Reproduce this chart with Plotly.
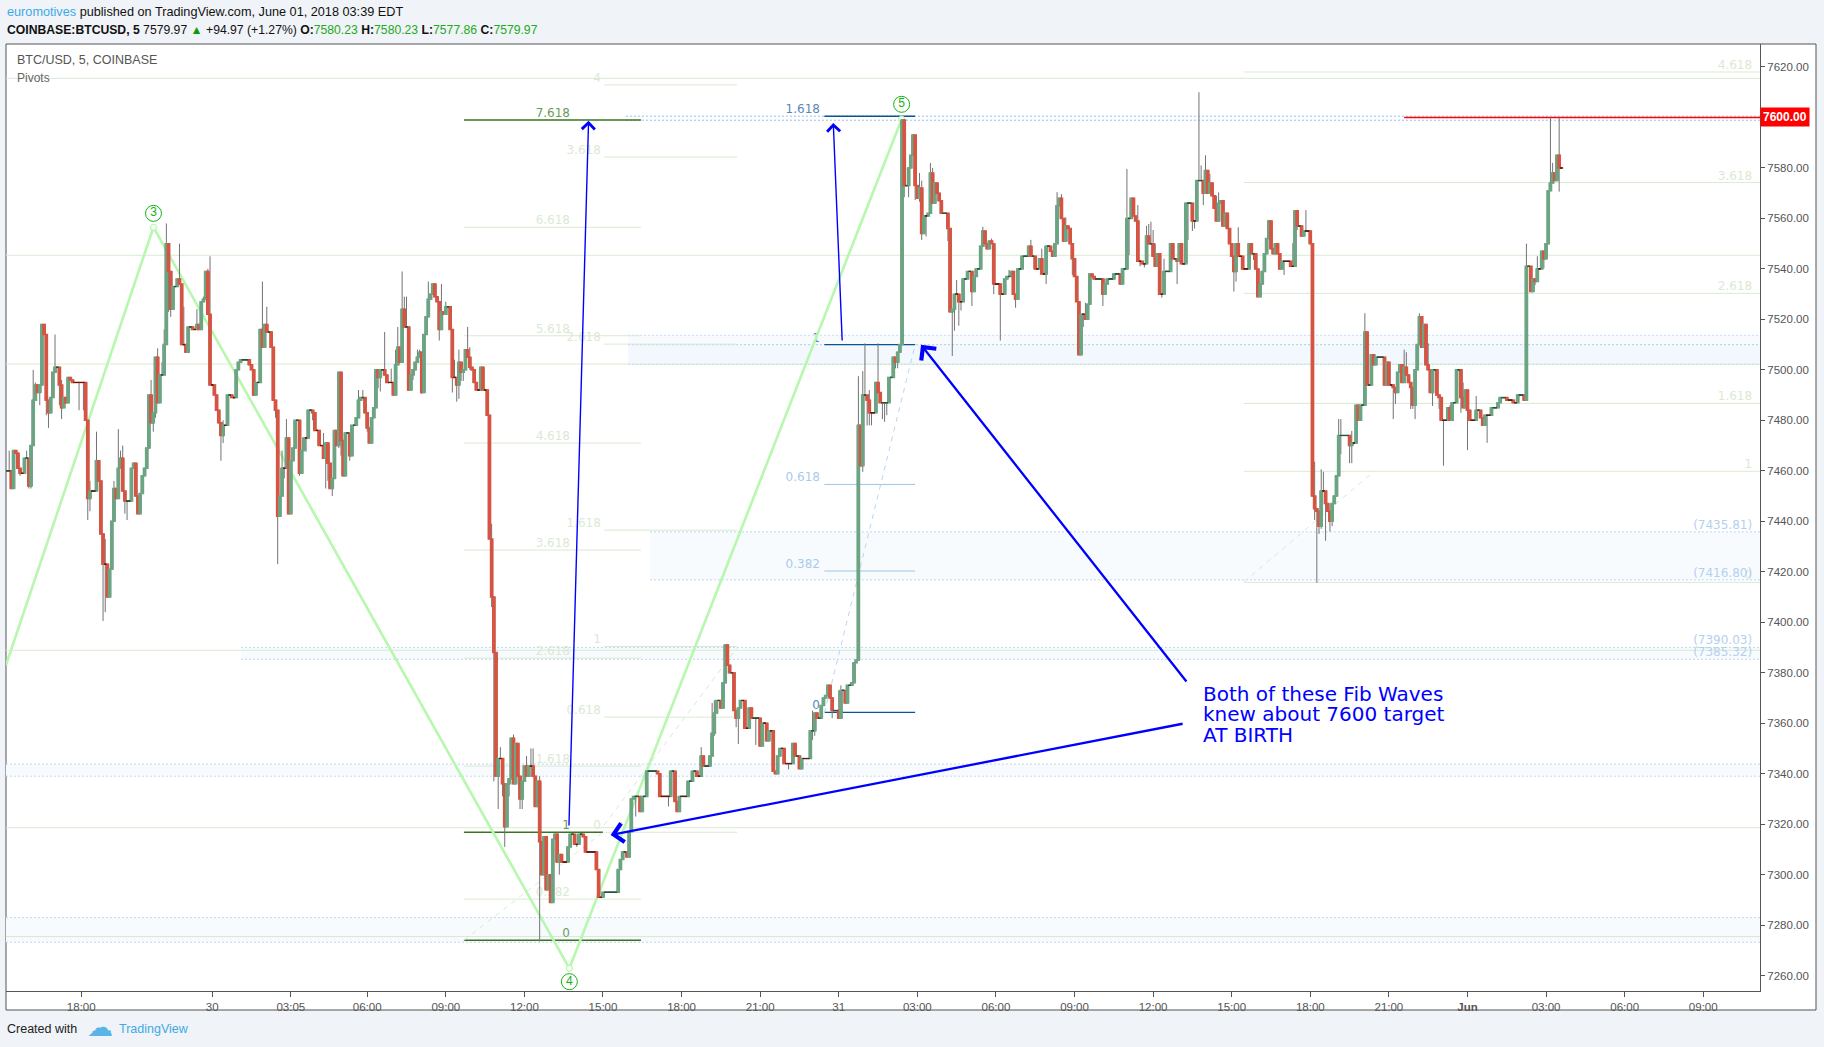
import plotly.graph_objects as go

# ---------- candle data (one close per 5-minute bar) ----------
closes = [
7460,7460,7453,7468,7467,7461,7459,7459,7465,7465,
7454,7470,7488,7494,7491,7494,7518,7514,7488,7483,
7489,7499,7501,7501,7494,7485,7489,7487,7497,7496,
7495,7495,7495,7495,7495,7495,7480,7449,7452,7452,
7452,7464,7456,7435,7423,7423,7410,7421,7440,7453,
7449,7461,7465,7452,7448,7448,7448,7461,7463,7450,
7443,7451,7458,7461,7469,7490,7479,7483,7505,7487,
7498,7498,7510,7550,7539,7524,7533,7533,7536,7534,
7510,7510,7507,7517,7517,7516,7516,7518,7516,7527,
7528,7539,7522,7494,7494,7490,7484,7479,7474,7478,
7478,7490,7490,7489,7489,7500,7503,7504,7504,7504,
7504,7502,7500,7490,7495,7495,7516,7509,7518,7515,
7515,7509,7488,7484,7442,7450,7461,7461,7473,7443,
7464,7469,7480,7480,7459,7468,7473,7473,7484,7484,
7483,7476,7476,7470,7470,7465,7471,7463,7453,7457,
7476,7470,7499,7472,7458,7475,7475,7466,7478,7478,
7481,7488,7489,7489,7483,7477,7471,7481,7485,7500,
7497,7500,7500,7498,7495,7495,7495,7490,7502,7509,
7503,7524,7517,7517,7492,7498,7500,7503,7505,7507,
7491,7514,7521,7528,7530,7534,7529,7527,7516,7523,
7522,7525,7525,7516,7497,7497,7494,7503,7499,7500,
7508,7505,7501,7500,7495,7492,7492,7501,7492,7492,
7482,7433,7410,7388,7339,7346,7346,7336,7319,7336,
7338,7354,7336,7352,7339,7330,7337,7343,7339,7343,
7343,7339,7327,7337,7313,7300,7315,7294,7300,7289,
7314,7316,7305,7308,7305,7305,7305,7311,7316,7316,
7312,7312,7316,7316,7315,7309,7309,7309,7309,7309,
7302,7291,7291,7293,7293,7293,7293,7293,7293,7293,
7302,7306,7309,7309,7307,7317,7330,7331,7331,7331,
7325,7331,7331,7341,7341,7341,7341,7341,7340,7331,
7331,7331,7331,7331,7341,7341,7329,7325,7331,7331,
7331,7331,7337,7337,7341,7341,7339,7339,7347,7343,
7343,7343,7347,7356,7364,7369,7369,7366,7376,7391,
7383,7380,7380,7365,7362,7366,7369,7369,7358,7358,
7366,7362,7362,7362,7362,7351,7360,7360,7353,7357,
7357,7341,7340,7347,7350,7350,7344,7344,7344,7344,
7352,7347,7347,7342,7346,7346,7346,7346,7357,7357,
7364,7362,7362,7367,7370,7371,7375,7370,7365,7365,
7365,7362,7373,7373,7368,7375,7375,7376,7384,7385,
7478,7462,7490,7490,7488,7483,7483,7483,7495,7491,
7487,7487,7487,7487,7497,7497,7505,7503,7507,7510,
7599,7573,7573,7580,7585,7593,7573,7568,7572,7554,
7561,7561,7562,7578,7566,7574,7570,7567,7562,7562,
7562,7556,7523,7524,7530,7530,7527,7527,7536,7536,
7539,7539,7531,7537,7540,7540,7549,7555,7550,7548,
7551,7550,7534,7534,7534,7530,7530,7536,7537,7537,
7539,7530,7528,7540,7540,7545,7545,7545,7549,7545,
7545,7540,7540,7544,7538,7538,7549,7549,7547,7545,
7550,7565,7568,7560,7551,7557,7556,7550,7544,7537,
7527,7506,7522,7522,7520,7526,7538,7537,7536,7536,
7536,7536,7530,7534,7536,7536,7536,7538,7538,7538,
7534,7540,7540,7560,7560,7568,7561,7559,7543,7543,
7542,7542,7553,7550,7550,7545,7541,7546,7530,7530,
7539,7539,7539,7550,7544,7544,7543,7550,7542,7542,
7566,7566,7566,7559,7559,7575,7575,7575,7570,7579,
7570,7574,7569,7564,7559,7566,7567,7557,7562,7556,
7550,7545,7539,7550,7545,7545,7540,7540,7540,7550,
7546,7546,7540,7529,7534,7539,7546,7552,7559,7548,
7546,7550,7546,7540,7543,7543,7543,7543,7541,7541,
7563,7557,7557,7553,7555,7555,7555,7550,7450,7445,
7444,7438,7452,7452,7447,7444,7440,7447,7450,7458,
7474,7474,7474,7474,7474,7470,7471,7471,7486,7480,
7486,7486,7515,7494,7494,7506,7502,7505,7505,7505,
7505,7494,7503,7494,7494,7493,7491,7499,7502,7495,
7501,7498,7495,7493,7486,7500,7510,7521,7509,7518,
7502,7500,7491,7500,7500,7490,7489,7480,7480,7480,
7485,7480,7487,7487,7500,7500,7489,7485,7492,7484,
7480,7480,7480,7484,7484,7481,7478,7482,7482,7482,
7485,7485,7485,7487,7489,7489,7489,7488,7488,7488,
7487,7487,7490,7490,7490,7488,7541,7541,7531,7536,
7535,7540,7540,7547,7544,7550,7571,7574,7578,7575,
7585,7580,7579.97,
]
first_open = 7460

hi_bars = [1,9,12,13,22,25,38,41,45,49,51,52,53,66,69,71,72,73,79,81,87,90,92,93,99,117,
           119,126,128,145,161,163,173,176,178,179,181,182,183,188,189,193,196,199,201,205,207,211,212,222,
           226,232,238,240,241,244,252,318,323,324,369,381,382,
           390,392,393,395,399,418,419,423,424,435,447,451,459,469,474,481,483,485,
           494,513,518,522,523,524,525,526,530,546,547,549,551,554,555,564,578,589,595,
           599,602,603,610,611,616,622,640,641,647,651,661,667,673,696,701,707,708,709,711]
hi_vals = [7468,7468,7500,7495,7514,7496,7456,7475.5,7433,7456,7476.5,7468,7470,7496,7508.5,7503,7516,7558,7550,7525,7524,7529,7540,7545,7480,7535,
           7525,7468,7480.5,7475,7492,7492,7515,7500.5,7508,7517,7539,7529,7529,7508,7508,7535,7534,7534,7527,7504,7508,7517,7509,7439,
           7350.5,7355.5,7347,7350,7350,7339,7317,7350.5,7368,7369,7365,7373,7375,
           7497.5,7499.5,7510.5,7492,7510.5,7578,7575,7582,7580,7535.6,7556.7,7552,7539.6,7551.5,7548,7570.4,7569.6,7560.4,
           7526.6,7579.6,7565.3,7557,7557.8,7558.7,7555.4,7550,7544,7610,7581,7585,7577.6,7569,7570.3,7556.5,7559.4,7550.2,7563.3,
           7463.6,7460.6,7459.6,7480.5,7480.5,7475.8,7522.4,7508,7507,7522.4,7510.5,7486,7495,7489.6,7550,7545,7600,7582,7578,7600]
lo_bars = [6,10,11,15,18,19,24,25,33,35,37,38,44,45,54,55,67,68,74,75,98,99,
           123,124,127,134,137,140,146,147,149,152,153,157,165,170,171,185,186,190,198,204,206,207,208,209,212,
           222,223,225,227,228,230,235,236,244,253,255,261,288,303,324,334,335,343,358,369,370,378,
           394,395,396,392,401,402,403,407,408,411,413,416,418,419,421,431,433,434,436,437,442,452,455,462,476,488,502,
           484,492,493,514,519,521,529,536,541,543,544,548,562,563,571,585,591,
           599,600,601,602,604,606,607,611,615,616,635,636,643,644,645,653,656,658,666,669,678,700,704,711]
lo_vals = [7458,7453,7453,7486,7482,7477,7486,7480.5,7484,7484,7440.5,7444,7400.5,7404,7443,7440.5,7475.5,7481,7523,7521,7464,7471,
           7481,7423,7457,7458,7467.6,7480,7453,7456,7450,7469,7466,7464,7475.5,7492.7,7491.4,7492,7496,7490.5,7511.6,7491,7487.4,7488.5,7495.6,7495.6,7500,
           7406,7337,7326,7331,7311,7331,7326,7326,7273.5,7300,7305,7311,7323,7327,7355,7358.4,7351.8,7351.4,7341.7,7353.4,7355,7362,
           7478,7478,7478,7459.6,7480.5,7479.4,7482,7500.6,7500.6,7568.4,7568.4,7567.3,7566.6,7551.5,7552.8,7551,7505.5,7515.5,7517.5,7523.5,7525.3,7530,7511.6,7524.6,7534,7537.6,7525.3,
           7550.8,7510.5,7517,7545.5,7541,7540.6,7528.6,7534,7551.4,7555,7556,7565.3,7531,7535,7543.5,7537.6,7555.4,
           7440.5,7415.6,7435,7437,7432.3,7435.9,7438.1,7466.6,7463,7463,7480.5,7486.5,7484.5,7484.5,7480.5,7485.7,7484.5,7462,7483,7468.2,7471.1,7533.6,7540.2,7570.6]

# ---------- axis ----------
tick_bars = [34,94,130,165,201,237,273,309,345,381,417,453,489,525,561,597,633,669,705,741,777]
tick_text = ["18:00","30","03:05","06:00","09:00","12:00","15:00","18:00","21:00","31","03:00",
             "06:00","09:00","12:00","15:00","18:00","21:00","<b>Jun</b>","03:00","06:00","09:00"]
price_ticks = list(range(7260, 7640, 20))
x_range = [-0.46, 803]
y_range = [7253.9, 7629.1]

# ---------- pivots / Fibonacci levels ----------
pivot_prices = [7615.5, 7545.4, 7502.3, 7388.9, 7318.6, 7275.5]

fib_a_levels = ["6.618","5.618","4.618","3.618","2.618","1.618","0.382"]
fib_a_prices = [7556.5,7513.5,7471,7428.6,7385.8,7343,7290.3]
fib_a_long_levels = ["7.618","0"]
fib_a_long_prices = [7599,7274]
fib_a_short_levels = ["1"]
fib_a_short_prices = [7316.8]
fib_a_span = [209.3, 290.4, 257.9]
fib_a_short_end = 273

fib_b_levels = ["4","3.618","2.618","1.618","1","0.618","0"]
fib_b_prices = [7612.9,7584.3,7510.2,7436.5,7390.4,7362.4,7316.8]
fib_b_span = [273.5, 334.4, 272]

fib_c_levels = ["4.618","3.618","2.618","1.618","1","0"]
fib_c_prices = [7618,7574.2,7530.3,7486.7,7459.8,7415.8]
fib_c_span = [566.6, 803, 799.4]

fib_d_dark_levels = ["1.618","1","0"]
fib_d_dark_prices = [7600.5,7510,7364.3]
fib_d_levels = ["0.618","0.382"]
fib_d_prices = [7454.6,7420.3]
fib_d_span = [374.4, 416, 372.4]

zone_low   = [7598.9, 7510,   7502.1, 7416.8, 7385.32, 7339,   7273.2]
zone_high  = [7600.5, 7513.7, 7510,   7435.81,7390.03, 7343.8, 7283]
zone_start = [283.5,  284.5,  284.5,  294.5,  107.2,   -0.46,  -0.46]
zone_fill  = ["rgba(0,0,0,0)","#f8fbfe","#f2f8fd","#f8fbfe","#f8fbfe","#f8fbfe","#f8fbfe"]
zone_line  = ["#93bfea","#c3dcf2","#b4d5ee","#b9d7f1","#b9d7f1","#c3d7ee","#c3d7ee"]
zone_labels = ["(7435.81)","(7416.80)","(7390.03)","(7385.32)"]
zone_label_prices = [7435.81,7416.80,7390.03,7385.32]

trend_green = [([209.3,273],[7274,7316.8]), ([273.5,334.4],[7319.6,7390]), ([566.6,626.5],[7416,7460])]
trend_blue = ([374.4,416],[7364,7510])

wave_bars = [-0.46,67.1,257.6,409.8]
wave_prices = [7383,7556.5,7262.9,7599.3]
wave_labels = ["3","4","5"]
wave_label_prices = [7562,7257.6,7605.2]

target_price = 7600
target_start = 640

arrow_tails = [(257.4,7318.9),(382.6,7511),(540.8,7375.9),(539.2,7359.9)]
arrow_tips = [(266.4,7598.7),(378.5,7597.8),(418.7,7509.9),(276.5,7315.7)]
arrow_widths = [1.4,1.4,2.3,2.3]
note_lines = ["Both of these Fib Waves","knew about 7600 target","AT BIRTH"]
note_prices = [7371.5,7363.6,7355.2]
note_bar = 547

GREEN, RED = "#6BA583", "#D75442"
FADE = "#d9ead3"
FONT = "Liberation Sans"
LBL = "DejaVu Sans"

n = len(closes)
bars = list(range(n))
opens = [first_open] + closes[:-1]
highs = [max(o, c) for o, c in zip(opens, closes)]
lows = [min(o, c) for o, c in zip(opens, closes)]
for b, v in zip(hi_bars, hi_vals):
    highs[b] = max(highs[b], v)
for b, v in zip(lo_bars, lo_vals):
    lows[b] = min(lows[b], v)
body_hi = [max(o, c) for o, c in zip(opens, closes)]
body_lo = [min(o, c) for o, c in zip(opens, closes)]

fig = go.Figure()

def hlines(prices, x0, x1, color, width=1, dash=None):
    xs, ys = [], []
    for p in prices:
        xs += [x0, x1, None]
        ys += [p, p, None]
    fig.add_trace(go.Scatter(x=xs, y=ys, mode="lines", hoverinfo="skip", showlegend=False,
                             line=dict(color=color, width=width, dash=dash)))

def labels(texts, prices, x, color, size=12):
    fig.add_trace(go.Scatter(x=[x]*len(texts), y=prices, mode="text", text=texts,
                             textposition="top left", hoverinfo="skip", showlegend=False,
                             textfont=dict(family=LBL, size=size, color=color)))

# zones
shapes = []
for lo, hi, s, f in zip(zone_low, zone_high, zone_start, zone_fill):
    shapes.append(dict(type="rect", xref="x", yref="y", x0=s, x1=x_range[1], y0=lo, y1=hi,
                       fillcolor=f, line_width=0, layer="below"))
for lo, hi, s, c in zip(zone_low, zone_high, zone_start, zone_line):
    hlines([lo, hi], s, x_range[1], c, 1, "2px,2px")

# pivots and fib levels
hlines(pivot_prices, x_range[0], x_range[1], FADE, 1)
hlines(fib_a_prices, fib_a_span[0], fib_a_span[1], FADE, 1)
hlines(fib_b_prices, fib_b_span[0], fib_b_span[1], FADE, 1)
hlines(fib_c_prices, fib_c_span[0], fib_c_span[1], FADE, 1)
hlines(fib_a_long_prices, fib_a_span[0], fib_a_span[1], "#38761d", 1.4)
hlines(fib_a_short_prices, fib_a_span[0], fib_a_short_end, "#38761d", 1.4)
hlines(fib_d_prices, fib_d_span[0], fib_d_span[1], "#9fc5e8", 1)
hlines(fib_d_dark_prices, fib_d_span[0], fib_d_span[1], "#0b5394", 1.4)
for tx, ty in trend_green:
    fig.add_trace(go.Scatter(x=tx, y=ty, mode="lines", hoverinfo="skip", showlegend=False,
                             line=dict(color=FADE, width=1, dash="5px,5px")))
fig.add_trace(go.Scatter(x=trend_blue[0], y=trend_blue[1], mode="lines", hoverinfo="skip", showlegend=False,
                         line=dict(color="#b9d7f1", width=1, dash="5px,5px")))

labels(fib_a_levels, fib_a_prices, fib_a_span[2], "#dbe9d4")
labels(fib_a_long_levels + fib_a_short_levels, fib_a_long_prices + fib_a_short_prices, fib_a_span[2], "#6b9a5c")
labels(fib_b_levels, fib_b_prices, fib_b_span[2], "#dbe9d4")
labels(fib_c_levels, fib_c_prices, fib_c_span[2], "#dbe9d4")
labels(fib_d_levels, fib_d_prices, fib_d_span[2], "#a9cbeb")
labels(fib_d_dark_levels, fib_d_dark_prices, fib_d_span[2], "#5b87b5")
labels(zone_labels, zone_label_prices, fib_c_span[2], "#b4d0ee")

# zig-zag wave
fig.add_trace(go.Scatter(x=wave_bars, y=wave_prices, mode="lines", hoverinfo="skip", showlegend=False,
                         line=dict(color="#b7f7ae", width=2.6)))
fig.add_trace(go.Scatter(x=wave_bars[1:], y=wave_prices[1:], mode="markers", hoverinfo="skip", showlegend=False,
                         marker=dict(size=6, color="white", line=dict(color="#b7f7ae", width=1.2))))
fig.add_trace(go.Scatter(x=wave_bars[1:], y=wave_label_prices, mode="markers+text", text=wave_labels,
                         textposition="middle center", hoverinfo="skip", showlegend=False,
                         textfont=dict(family=FONT, size=12, color="#12b312"),
                         marker=dict(size=16, color="white", line=dict(color="#12b312", width=1))))

# target line
hlines([target_price], target_start, x_range[1], "#ff0000", 1.6)

# candles on an overlaid pair of axes, so they sit above the lines
fig.add_trace(go.Candlestick(x=bars, open=opens, high=highs, low=lows, close=closes,
                             xaxis="x2", yaxis="y2", name="BTC/USD wicks", hoverinfo="skip", showlegend=False,
                             increasing=dict(line=dict(color="#737375", width=1), fillcolor="rgba(0,0,0,0)"),
                             decreasing=dict(line=dict(color="#737375", width=1), fillcolor="rgba(0,0,0,0)")))
fig.add_trace(go.Candlestick(x=bars, open=opens, high=body_hi, low=body_lo, close=closes,
                             xaxis="x2", yaxis="y2", name="BTC/USD", showlegend=False,
                             increasing=dict(line=dict(color=GREEN, width=1.5), fillcolor=GREEN),
                             decreasing=dict(line=dict(color=RED, width=1.5), fillcolor=RED)))
flat = [i for i in bars if abs(opens[i] - closes[i]) <= 0.5]
fig.add_trace(go.Candlestick(x=flat, open=[opens[i] for i in flat], high=[body_hi[i] for i in flat],
                             low=[body_lo[i] for i in flat], close=[closes[i] for i in flat],
                             xaxis="x2", yaxis="y2", name="flat", hoverinfo="skip", showlegend=False,
                             increasing=dict(line=dict(color="#225437", width=1), fillcolor="#225437"),
                             decreasing=dict(line=dict(color="#5b1a13", width=1), fillcolor="#5b1a13")))

def px(x): return (x - 6) / 1754
def py(y): return (991 - y) / 947

# frame
shapes.append(dict(type="rect", xref="paper", yref="paper", x0=px(6), x1=px(1816), y0=py(1010), y1=py(44),
                   fillcolor="white", line=dict(color="#555555", width=1), layer="below"))
shapes = shapes[-1:] + shapes[:-1]

ann = []
def text(x, y, s, size=12, color="#111111", family=FONT):
    ann.append(dict(xref="paper", yref="paper", x=px(x), y=py(y), text=s, showarrow=False,
                    xanchor="left", yanchor="middle", align="left",
                    font=dict(family=family, size=size, color=color)))

G = "#22ab22"
text(5, 12, '<span style="color:#3fa9e8">euromotives</span> published on TradingView.com, June 01, 2018 03:39 EDT', 12.7)
text(5, 30, f'<b>COINBASE:BTCUSD, 5</b> 7579.97 <span style="color:#0a9a0a">▲</span> +94.97 (+1.27%) '
            f'<b>O:</b><span style="color:{G}">7580.23</span> <b>H:</b><span style="color:{G}">7580.23</span> '
            f'<b>L:</b><span style="color:{G}">7577.86</span> <b>C:</b><span style="color:{G}">7579.97</span>', 12.2)
text(15, 60, "BTC/USD, 5, COINBASE", 12.5, "#555555")
text(15, 78, "Pivots", 12, "#666666")
text(5, 1029, "Created with", 12.5, "#222222")
text(85, 1027, "☁", 26, "#57b5e8", "DejaVu Sans")
text(117, 1029, "TradingView", 12.5, "#3fa9e8")

for line, p in zip(note_lines, note_prices):
    ann.append(dict(xref="x", yref="y", x=note_bar, y=p, text=line, showarrow=False, xanchor="left",
                    yanchor="middle", font=dict(family=LBL, size=20, color="#0000ff")))
for (tx, ty), (hx, hy), w in zip(arrow_tails, arrow_tips, arrow_widths):
    ann.append(dict(xref="x", yref="y", axref="x", ayref="y", x=hx, y=hy, ax=tx, ay=ty, text="",
                    showarrow=True, arrowhead=4, arrowsize=1.6 if w > 2 else 1.8, arrowwidth=w, arrowcolor="#0000ff",
                    standoff=0, startstandoff=0))
ann.append(dict(xref="paper", yref="y", x=1.0, y=target_price, text="<b>7600.00</b>", showarrow=False,
                xanchor="left", yanchor="middle", bgcolor="#ff0000", borderpad=2,
                font=dict(family=FONT, size=12, color="white")))

axis_common = dict(showgrid=False, zeroline=False)
fig.update_layout(
    width=1824, height=1047, autosize=False,
    margin=dict(l=6, r=64, t=44, b=56, pad=0),
    paper_bgcolor="#f0f3f7", plot_bgcolor="rgba(0,0,0,0)",
    showlegend=False, boxgap=0, boxgroupgap=0, dragmode=False,
    shapes=shapes, annotations=ann,
    xaxis=dict(range=x_range, tickmode="array", tickvals=tick_bars, ticktext=tick_text,
               ticks="outside", ticklen=5, tickcolor="#555555", linecolor="#555555", showline=True,
               tickfont=dict(family=FONT, size=11.5, color="#555555"), rangeslider=dict(visible=False), **axis_common),
    yaxis=dict(range=y_range, side="right", tickmode="array", tickvals=price_ticks,
               ticktext=["" if p == target_price else f"{p}.00" for p in price_ticks], ticks="outside", ticklen=4,
               tickcolor="#555555", linecolor="#555555", showline=True,
               tickfont=dict(family=FONT, size=11.5, color="#555555"), **axis_common),
    xaxis2=dict(range=x_range, overlaying="x", visible=False, rangeslider=dict(visible=False), **axis_common),
    yaxis2=dict(range=y_range, overlaying="y", visible=False, side="right", **axis_common),
)

fig.write_html("out.html", config=dict(displayModeBar=False),
               post_script="document.body.style.margin='0';document.body.style.overflow='hidden';")
